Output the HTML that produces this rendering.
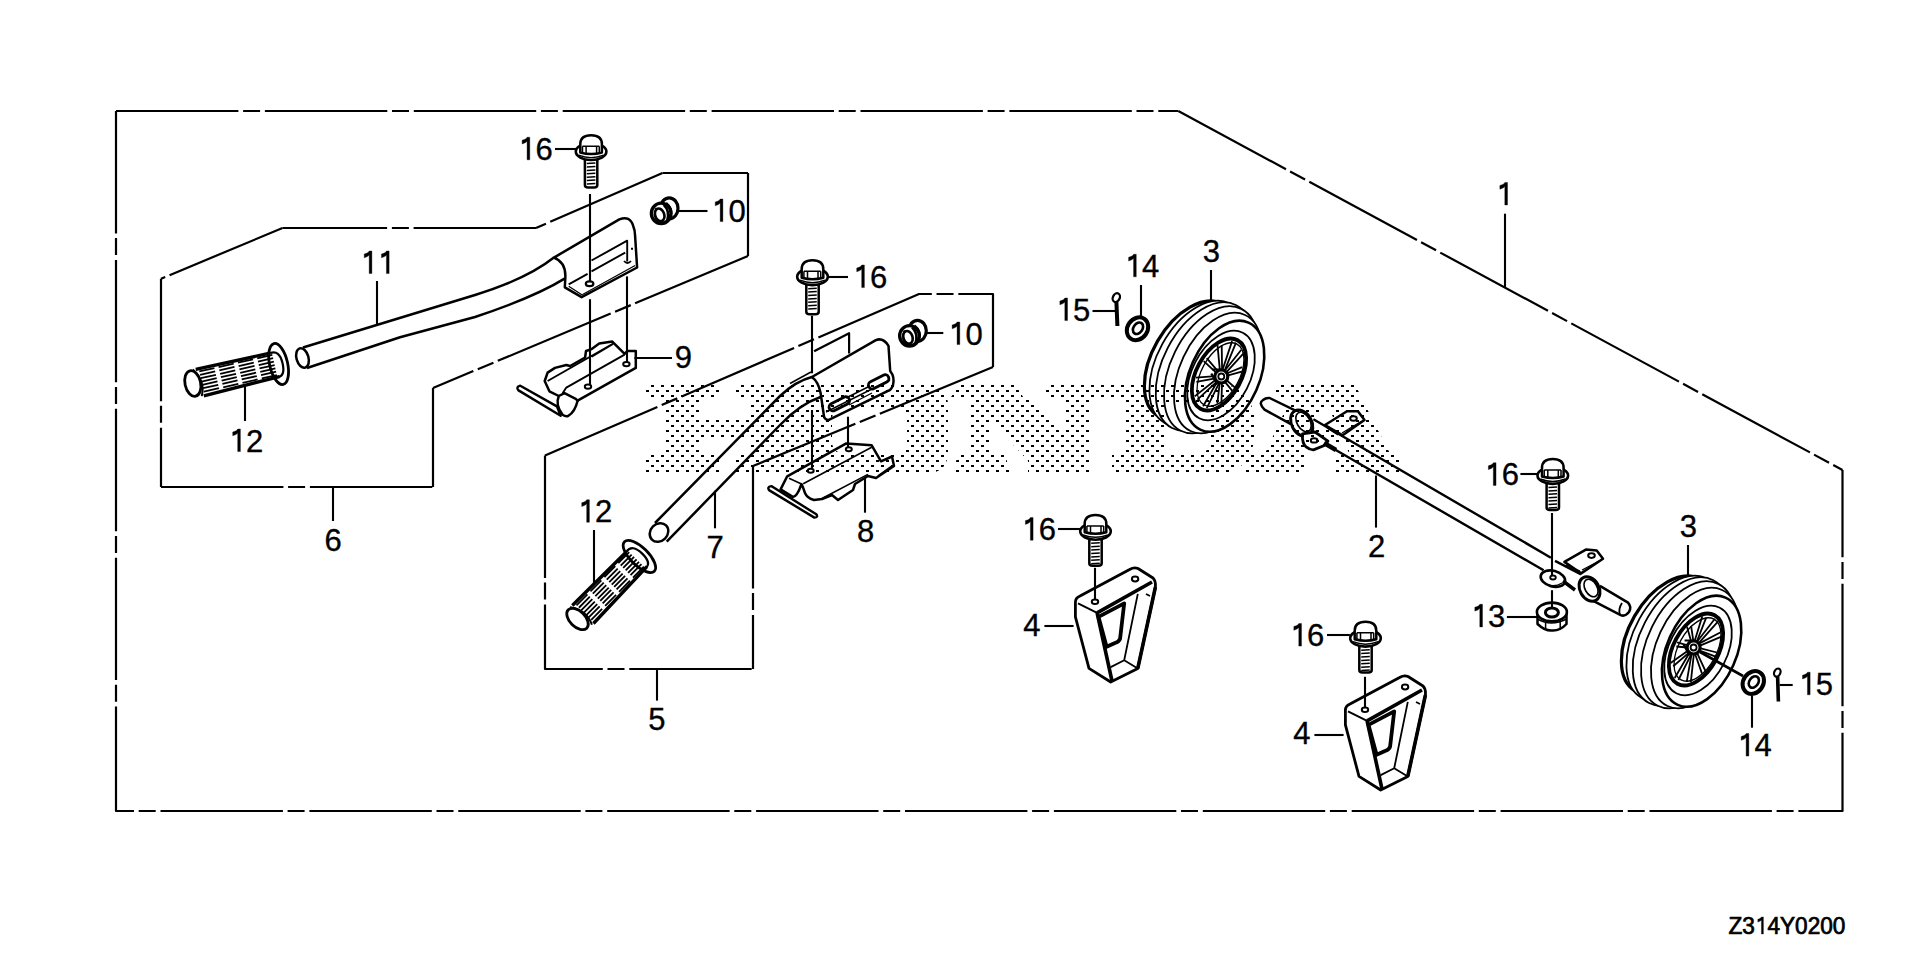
<!DOCTYPE html><html><head><meta charset="utf-8"><style>html,body{margin:0;padding:0;background:#fff;overflow:hidden}svg{display:block}</style></head><body><svg width="1920" height="959" viewBox="0 0 1920 959"><defs><pattern id="dots" patternUnits="userSpaceOnUse" x="1" y="385" width="10" height="10"><rect x="0" y="0" width="3" height="2" fill="#000"/><rect x="5" y="5" width="3" height="2" fill="#000"/></pattern></defs><rect width="1920" height="959" fill="#fff"/><g stroke="#000" fill="none" stroke-linecap="butt" stroke-linejoin="round"><path d="M116,111 V811 H1842.5 V470" stroke-dasharray="122.4 4.7 17 4.8" stroke-width="2.2" fill="none"/><path d="M1178.3,111 L1842.5,470" stroke-dasharray="122.4 4.7 17 4.8" stroke-width="2.2" fill="none"/><path d="M116,111 H1178.3" stroke-dasharray="122.4 4.7 17 4.8" stroke-width="2.2" fill="none"/><path d="M161,278.75 V487" stroke-dasharray="122.4 4.7 17 4.8" stroke-width="2.2" fill="none"/><path d="M161,487 H433" stroke-dasharray="122.4 4.7 17 4.8" stroke-width="2.2" fill="none"/><path d="M433,487 V388" stroke-dasharray="122.4 4.7 17 4.8" stroke-width="2.2" fill="none"/><path d="M748,256 L433,388" stroke-dasharray="122.4 4.7 17 4.8" stroke-width="2.2" fill="none"/><path d="M748,173 V256" stroke-dasharray="122.4 4.7 17 4.8" stroke-width="2.2" fill="none"/><path d="M662.5,173 H748" stroke-dasharray="122.4 4.7 17 4.8" stroke-width="2.2" fill="none"/><path d="M662.5,173 L536,228" stroke-dasharray="122.4 4.7 17 4.8" stroke-width="2.2" fill="none"/><path d="M536,228 H282.5" stroke-dasharray="122.4 4.7 17 4.8" stroke-width="2.2" fill="none"/><path d="M282.5,228 L161,278.75" stroke-dasharray="122.4 4.7 17 4.8" stroke-width="2.2" fill="none"/><path d="M545,455.5 V669 H753" stroke-dasharray="122.4 4.7 17 4.8" stroke-width="2.2" fill="none"/><path d="M753,466 V669" stroke-dasharray="122.4 4.7 17 4.8" stroke-width="2.2" fill="none"/><path d="M993,367 L753,466" stroke-dasharray="122.4 4.7 17 4.8" stroke-width="2.2" fill="none"/><path d="M545,455.5 L919,294 H993 V367" stroke-dasharray="122.4 4.7 17 4.8" stroke-width="2.2" fill="none"/><path d="M303,347.5 L475,295 Q527,279 553.9,257.6" stroke-width="2.5" fill="none"/><path d="M307,368 L400,337.2 L475,317 Q535,297 565,278.4" stroke-width="2.5" fill="none"/><ellipse cx="302.5" cy="358" rx="6" ry="10" transform="rotate(-16 302.5 358)" stroke-width="2.5" fill="#fff"/><path d="M553.9,257.6 L619.3,219.4 Q630,215 633.2,225.9 Q635,230 635.1,235.8 L637.1,267.5 L581.6,297.2 L564.8,287.3 L565.3,278.4 C566,268 563,261 553.9,257.6 Z" stroke-width="2.5" fill="#fff"/><path d="M568.7,286.3 L582.6,295.2 M582.6,294.5 L635.1,265.5" stroke-width="1.3" fill="none"/><path d="M591.5,260.5 L627.2,240.7 V261.5 M591.5,271.4 L625.2,252.6 M568.7,284.3 L587.6,273.9 M631,248.7 H633" stroke-width="1.9" fill="none"/><ellipse cx="589.6" cy="283.8" rx="3.8" ry="2.4" stroke-width="2.2" fill="#fff"/><path d="M624,261 Q627.5,265 631,261" stroke-width="1.8" fill="none"/><path d="M520.3,385.7 L556.9,406.4 L560.7,415.8 L518.5,390.4 Q515.5,387 520.3,385.7 Z" stroke-width="2.4" fill="#fff"/><path d="M577.6,400.7 L635.8,367.9 L635.8,351 L627.4,351 L624.6,353.8 L612.3,341.6 L599.2,343.5 L591.7,349.1 L586,351 L585.1,357.5 L570.1,366 L566.3,365 L555,367.9 L547.6,372.6 L544.7,381 L549.4,391.3 L558.8,396 Z" stroke-width="2.5" fill="#fff"/><path d="M558.8,396 Q555,405 562.6,414.8 Q566,417 568.2,415.8 Q575,412 577.6,400.7 L575.7,398.8 L564.5,393.2 Z" stroke-width="2.5" fill="#fff"/><path d="M547.6,381 L613.3,343.5 M624.6,354.7 L566.3,387.6 L562.6,393.2 M591.7,356.6 L613,344" stroke-width="1.9" fill="none"/><ellipse cx="588" cy="386.6" rx="3.2" ry="2.2" stroke-width="2" fill="#fff"/><ellipse cx="626.4" cy="364.1" rx="3.2" ry="2.2" stroke-width="2" fill="#fff"/><path d="M655,523 L780,396 Q796,381 811.9,377" stroke-width="2.5" fill="none"/><path d="M790,383.5 L811,372" stroke-width="1.5" fill="none"/><path d="M666.7,541.7 L780,425 Q800,404 820.6,397" stroke-width="2.5" fill="none"/><ellipse cx="659" cy="532.5" rx="10" ry="8.5" transform="rotate(-45 659 532.5)" stroke-width="2.5" fill="#fff"/><path d="M811.9,377 L875.4,340.3 Q883,337 888.5,345.8 L890.2,371 Q895,377 893,385.2 Q891,390 888.5,390.7 L828.3,420.2 Q824,419 823.9,415.8 L820.6,393 C819,385 816,380 811.9,377 Z" stroke-width="2.5" fill="#fff"/><path d="M814.1,351.3 L849.1,333.2 V353.5" stroke-width="2.2" fill="none"/><rect x="867.7" y="378" width="22" height="7.7" rx="3.8" transform="rotate(-27 878.7 381.9)" stroke-width="2.8" fill="none"/><rect x="828.3" y="400" width="22" height="7.7" rx="3.8" transform="rotate(-27 839.3 403.8)" stroke-width="2.8" fill="none"/><path d="M846,398 L870,386 M849,405 L872,393 M826,412 L890,380" stroke-width="1.4" fill="none"/><path d="M771.3,486.1 L816.3,514.3 Q818.5,517.5 814.4,517.6 L769.4,490.4 Q766.5,487 771.3,486.1 Z" stroke-width="2.4" fill="#fff"/><path d="M787.2,476.3 L846.3,443.4 L871.7,445.3 L881,461.3 L892,456.5 L894,466 L876,478 L868,476 L855,484 L853,490 L838,500 L832,495 L822,499 L814,500 Q807,498 805,493 Q803,487 801.5,484 Q797,497 792.8,496.9 L780.6,489.4 Z" stroke-width="2.5" fill="#fff"/><path d="M803.2,483.8 L871.7,447.2 M789,478.2 L801.5,484 M822,498.5 L867.9,474.4 M878,476 L892,466" stroke-width="1.6" fill="none"/><ellipse cx="810.7" cy="470.7" rx="3" ry="2" stroke-width="2" fill="#fff"/><ellipse cx="848.8" cy="449.2" rx="3" ry="2" stroke-width="2" fill="#fff"/><path d="M1313.4,419.2 L1550.9,557.7 M1555,560.9 L1581.1,574.4 M1328,445.5 L1543.6,570.2" stroke-width="2.4" fill="none"/><path d="M1269.6,398 L1298.1,411.9 L1290,423.6 L1264.5,409.7 Q1258,403 1263,400 Q1266,397.5 1269.6,398 Z" stroke-width="2.5" fill="#fff"/><ellipse cx="1301.7" cy="423.2" rx="10" ry="14" transform="rotate(-30 1301.7 423.2)" stroke-width="3" fill="#fff"/><ellipse cx="1303.5" cy="422" rx="6.5" ry="10.5" transform="rotate(-30 1303.5 422)" stroke-width="1.6" fill="none"/><path d="M1325,425 L1347,411.2 L1357.9,411.2 L1364.5,419.9 L1342.6,435.3 Z" stroke-width="2.5" fill="#fff"/><path d="M1327,428 L1338,435 M1342,433 L1362,421" stroke-width="1.4" fill="none"/><ellipse cx="1353.5" cy="418.5" rx="3.3" ry="2.2" stroke-width="2" fill="none"/><path d="M1302.4,433.8 Q1302,444 1306.1,446.9 Q1310,450 1313.4,449.9 L1324.3,445.5 L1328,441.1 L1315,432 Z" stroke-width="2.8" fill="#fff"/><ellipse cx="1314.1" cy="440.4" rx="3.3" ry="2.2" stroke-width="2" fill="none"/><path d="M1324,443 L1336,450" stroke-width="4.5" fill="none"/><path d="M1564.4,561.9 L1586.3,549.4 L1596.7,550.4 L1603,558.8 L1581.1,573.4 Z" stroke-width="2.5" fill="#fff"/><path d="M1566,565 L1580,571 M1582,570 L1601,560" stroke-width="1.3" fill="none"/><ellipse cx="1591.5" cy="555.6" rx="3.3" ry="2.3" stroke-width="2" fill="none"/><ellipse cx="1552.9" cy="578.6" rx="12.5" ry="7.8" transform="rotate(15 1552.9 578.6)" stroke-width="2.6" fill="#fff"/><path d="M1548,585 Q1556,587 1562,583" stroke-width="1.3" fill="none"/><ellipse cx="1553" cy="577.5" rx="2.8" ry="2" stroke-width="1.8" fill="none"/><path d="M1563,581 L1575,590" stroke-width="3.5" fill="none"/><path d="M1599.9,585.9 L1628,602.6 Q1632,607 1629,612 Q1625,617 1620.7,615.1 L1588.4,598.4" stroke-width="2.5" fill="#fff"/><path d="M1622,603 Q1618,609 1620,615" stroke-width="1.8" fill="none"/><ellipse cx="1589.5" cy="589" rx="9.5" ry="13" transform="rotate(-30 1589.5 589)" stroke-width="3" fill="#fff"/><ellipse cx="1591" cy="588" rx="6" ry="9.5" transform="rotate(-30 1591 588)" stroke-width="1.6" fill="none"/><path d="M1537.5,612 V624 Q1545,631 1552,630.5 Q1560,631 1566.5,624 V612" stroke-width="2.5" fill="#fff"/><ellipse cx="1551.9" cy="612" rx="15" ry="9.4" stroke-width="2.6" fill="#fff"/><ellipse cx="1551.9" cy="612.5" rx="6.5" ry="4.5" stroke-width="3" fill="none"/><path d="M1545.6,622 V629.5 M1560.2,622 V629.5 M1537.5,619 Q1551,627 1566.5,619" stroke-width="1.5" fill="none"/><ellipse cx="1137.5" cy="328.75" rx="10" ry="12" transform="rotate(35 1137.5 328.75)" stroke-width="4" fill="#fff"/><ellipse cx="1138.0" cy="328.25" rx="4.5" ry="6.2" transform="rotate(35 1138.0 328.25)" stroke-width="2.6" fill="none"/><ellipse cx="1753.3" cy="682.5" rx="10" ry="12" transform="rotate(35 1753.3 682.5)" stroke-width="4" fill="#fff"/><ellipse cx="1753.8" cy="682.0" rx="4.5" ry="6.2" transform="rotate(35 1753.8 682.0)" stroke-width="2.6" fill="none"/><ellipse cx="1116.3" cy="297.6" rx="3.4" ry="4.6" transform="rotate(25 1116.3 297.6)" stroke-width="2.3" fill="none"/><path d="M1116.4,302 L1117.4,326" stroke-width="4" fill="none"/><ellipse cx="1777.3" cy="672.6" rx="3" ry="4.2" transform="rotate(25 1777.3 672.6)" stroke-width="2.2" fill="none"/><path d="M1777.6,676.5 L1778.4,701.5" stroke-width="3.6" fill="none"/><g transform="translate(192.8 383.5) rotate(-12.8)"><path d="M6,-13 L86,-12 L86,13 L8,14.5 Z" stroke="none" fill="#fff"/><path d="M6,-13.2 L82,-12.5 M8,14.5 L86,12.5" stroke-width="3.4" fill="none"/><line x1="9.0" y1="-10.3" x2="24.5" y2="-10.3" stroke-width="1.8"/><line x1="9.0" y1="-6.9" x2="24.5" y2="-6.9" stroke-width="1.8"/><line x1="9.0" y1="-3.4" x2="24.5" y2="-3.4" stroke-width="1.8"/><line x1="9.0" y1="0.1" x2="24.5" y2="0.1" stroke-width="1.8"/><line x1="9.0" y1="3.5" x2="24.5" y2="3.5" stroke-width="1.8"/><line x1="9.0" y1="6.9" x2="24.5" y2="6.9" stroke-width="1.8"/><line x1="9.0" y1="10.4" x2="24.5" y2="10.4" stroke-width="1.8"/><line x1="28.8" y1="-10.3" x2="44.3" y2="-10.3" stroke-width="1.8"/><line x1="28.8" y1="-6.9" x2="44.3" y2="-6.9" stroke-width="1.8"/><line x1="28.8" y1="-3.4" x2="44.3" y2="-3.4" stroke-width="1.8"/><line x1="28.8" y1="0.1" x2="44.3" y2="0.1" stroke-width="1.8"/><line x1="28.8" y1="3.5" x2="44.3" y2="3.5" stroke-width="1.8"/><line x1="28.8" y1="6.9" x2="44.3" y2="6.9" stroke-width="1.8"/><line x1="28.8" y1="10.4" x2="44.3" y2="10.4" stroke-width="1.8"/><line x1="48.6" y1="-10.3" x2="64.1" y2="-10.3" stroke-width="1.8"/><line x1="48.6" y1="-6.9" x2="64.1" y2="-6.9" stroke-width="1.8"/><line x1="48.6" y1="-3.4" x2="64.1" y2="-3.4" stroke-width="1.8"/><line x1="48.6" y1="0.1" x2="64.1" y2="0.1" stroke-width="1.8"/><line x1="48.6" y1="3.5" x2="64.1" y2="3.5" stroke-width="1.8"/><line x1="48.6" y1="6.9" x2="64.1" y2="6.9" stroke-width="1.8"/><line x1="48.6" y1="10.4" x2="64.1" y2="10.4" stroke-width="1.8"/><line x1="68.4" y1="-10.3" x2="83.9" y2="-10.3" stroke-width="1.8"/><line x1="68.4" y1="-6.9" x2="83.9" y2="-6.9" stroke-width="1.8"/><line x1="68.4" y1="-3.4" x2="83.9" y2="-3.4" stroke-width="1.8"/><line x1="68.4" y1="0.1" x2="83.9" y2="0.1" stroke-width="1.8"/><line x1="68.4" y1="3.5" x2="83.9" y2="3.5" stroke-width="1.8"/><line x1="68.4" y1="6.9" x2="83.9" y2="6.9" stroke-width="1.8"/><line x1="68.4" y1="10.4" x2="83.9" y2="10.4" stroke-width="1.8"/><ellipse cx="0" cy="0" rx="7.8" ry="13" stroke-width="2.8" fill="#fff"/><path d="M3,-13.6 Q13,0 6,14.3" stroke-width="2" fill="none"/><ellipse cx="88" cy="0" rx="9" ry="21" stroke-width="2.8" fill="none"/><path d="M82,-12.5 Q92,-14 92,0 Q92,13 85,12.5" stroke-width="2.2" fill="none"/></g><g transform="translate(577.5 619) rotate(-45.3)"><path d="M6,-13 L86,-12 L86,13 L8,14.5 Z" stroke="none" fill="#fff"/><path d="M6,-13.2 L82,-12.5 M8,14.5 L86,12.5" stroke-width="3.4" fill="none"/><line x1="9.0" y1="-10.3" x2="24.5" y2="-10.3" stroke-width="1.8"/><line x1="9.0" y1="-6.9" x2="24.5" y2="-6.9" stroke-width="1.8"/><line x1="9.0" y1="-3.4" x2="24.5" y2="-3.4" stroke-width="1.8"/><line x1="9.0" y1="0.1" x2="24.5" y2="0.1" stroke-width="1.8"/><line x1="9.0" y1="3.5" x2="24.5" y2="3.5" stroke-width="1.8"/><line x1="9.0" y1="6.9" x2="24.5" y2="6.9" stroke-width="1.8"/><line x1="9.0" y1="10.4" x2="24.5" y2="10.4" stroke-width="1.8"/><line x1="28.8" y1="-10.3" x2="44.3" y2="-10.3" stroke-width="1.8"/><line x1="28.8" y1="-6.9" x2="44.3" y2="-6.9" stroke-width="1.8"/><line x1="28.8" y1="-3.4" x2="44.3" y2="-3.4" stroke-width="1.8"/><line x1="28.8" y1="0.1" x2="44.3" y2="0.1" stroke-width="1.8"/><line x1="28.8" y1="3.5" x2="44.3" y2="3.5" stroke-width="1.8"/><line x1="28.8" y1="6.9" x2="44.3" y2="6.9" stroke-width="1.8"/><line x1="28.8" y1="10.4" x2="44.3" y2="10.4" stroke-width="1.8"/><line x1="48.6" y1="-10.3" x2="64.1" y2="-10.3" stroke-width="1.8"/><line x1="48.6" y1="-6.9" x2="64.1" y2="-6.9" stroke-width="1.8"/><line x1="48.6" y1="-3.4" x2="64.1" y2="-3.4" stroke-width="1.8"/><line x1="48.6" y1="0.1" x2="64.1" y2="0.1" stroke-width="1.8"/><line x1="48.6" y1="3.5" x2="64.1" y2="3.5" stroke-width="1.8"/><line x1="48.6" y1="6.9" x2="64.1" y2="6.9" stroke-width="1.8"/><line x1="48.6" y1="10.4" x2="64.1" y2="10.4" stroke-width="1.8"/><line x1="68.4" y1="-10.3" x2="83.9" y2="-10.3" stroke-width="1.8"/><line x1="68.4" y1="-6.9" x2="83.9" y2="-6.9" stroke-width="1.8"/><line x1="68.4" y1="-3.4" x2="83.9" y2="-3.4" stroke-width="1.8"/><line x1="68.4" y1="0.1" x2="83.9" y2="0.1" stroke-width="1.8"/><line x1="68.4" y1="3.5" x2="83.9" y2="3.5" stroke-width="1.8"/><line x1="68.4" y1="6.9" x2="83.9" y2="6.9" stroke-width="1.8"/><line x1="68.4" y1="10.4" x2="83.9" y2="10.4" stroke-width="1.8"/><ellipse cx="0" cy="0" rx="7.8" ry="13" stroke-width="2.8" fill="#fff"/><path d="M3,-13.6 Q13,0 6,14.3" stroke-width="2" fill="none"/><ellipse cx="88" cy="0" rx="9" ry="21" stroke-width="2.8" fill="none"/><path d="M82,-12.5 Q92,-14 92,0 Q92,13 85,12.5" stroke-width="2.2" fill="none"/></g><g><path d="M584.9,157.6 V185.1 Q584.9,187.6 588.1,187.6 H594.1 Q597.3000000000001,187.6 597.3000000000001,185.1 V157.6" stroke-width="2.5" fill="#fff"/><line x1="586.8000000000001" y1="163.6" x2="595.4" y2="163.1" stroke-width="1.5"/><line x1="586.8000000000001" y1="167.0" x2="595.4" y2="166.5" stroke-width="1.5"/><line x1="586.8000000000001" y1="170.4" x2="595.4" y2="169.9" stroke-width="1.5"/><line x1="586.8000000000001" y1="173.8" x2="595.4" y2="173.3" stroke-width="1.5"/><line x1="586.8000000000001" y1="177.2" x2="595.4" y2="176.7" stroke-width="1.5"/><line x1="586.8000000000001" y1="180.6" x2="595.4" y2="180.1" stroke-width="1.5"/><line x1="586.8000000000001" y1="184.0" x2="595.4" y2="183.5" stroke-width="1.5"/><ellipse cx="591.1" cy="151.6" rx="15.3" ry="8.4" stroke-width="2.6" fill="#fff"/><path d="M578.6,155.1 Q591.1,160.1 603.6,155.1" stroke-width="1.4" fill="none"/><path d="M580.3000000000001,152.6 V144.1 C580.3000000000001,138.1 584.6,135.2 591.1,135.2 C597.6,135.2 601.9,138.1 601.9,144.1 V152.6 Q591.1,155.6 580.3000000000001,152.6 Z" stroke-width="2.5" fill="#fff"/><path d="M582.5,146.2 H599.3000000000001 M582.5,146.2 V153.1 M599.3000000000001,146.2 V153.1 M586.1,146.2 V153.6 M596.6,146.2 V153.6" stroke-width="1.5" fill="none"/></g><g><path d="M806.3,282.7 V311.7 Q806.3,314.2 809.5,314.2 H815.5 Q818.7,314.2 818.7,311.7 V282.7" stroke-width="2.5" fill="#fff"/><line x1="808.2" y1="288.7" x2="816.8" y2="288.2" stroke-width="1.5"/><line x1="808.2" y1="292.1" x2="816.8" y2="291.6" stroke-width="1.5"/><line x1="808.2" y1="295.5" x2="816.8" y2="295.0" stroke-width="1.5"/><line x1="808.2" y1="298.9" x2="816.8" y2="298.4" stroke-width="1.5"/><line x1="808.2" y1="302.3" x2="816.8" y2="301.8" stroke-width="1.5"/><line x1="808.2" y1="305.7" x2="816.8" y2="305.2" stroke-width="1.5"/><line x1="808.2" y1="309.1" x2="816.8" y2="308.6" stroke-width="1.5"/><ellipse cx="812.5" cy="276.7" rx="15.3" ry="8.4" stroke-width="2.6" fill="#fff"/><path d="M800.0,280.2 Q812.5,285.2 825.0,280.2" stroke-width="1.4" fill="none"/><path d="M801.7,277.7 V269.2 C801.7,263.2 806.0,260.3 812.5,260.3 C819.0,260.3 823.3,263.2 823.3,269.2 V277.7 Q812.5,280.7 801.7,277.7 Z" stroke-width="2.5" fill="#fff"/><path d="M803.9,271.3 H820.7 M803.9,271.3 V278.2 M820.7,271.3 V278.2 M807.5,271.3 V278.7 M818.0,271.3 V278.7" stroke-width="1.5" fill="none"/></g><g><path d="M1089.3,537.3 V563.1999999999999 Q1089.3,565.6999999999999 1092.5,565.6999999999999 H1098.5 Q1101.7,565.6999999999999 1101.7,563.1999999999999 V537.3" stroke-width="2.5" fill="#fff"/><line x1="1091.2" y1="543.3" x2="1099.8" y2="542.8" stroke-width="1.5"/><line x1="1091.2" y1="546.7" x2="1099.8" y2="546.2" stroke-width="1.5"/><line x1="1091.2" y1="550.1" x2="1099.8" y2="549.6" stroke-width="1.5"/><line x1="1091.2" y1="553.5" x2="1099.8" y2="553.0" stroke-width="1.5"/><line x1="1091.2" y1="556.9" x2="1099.8" y2="556.4" stroke-width="1.5"/><line x1="1091.2" y1="560.3" x2="1099.8" y2="559.8" stroke-width="1.5"/><line x1="1091.2" y1="563.7" x2="1099.8" y2="563.2" stroke-width="1.5"/><ellipse cx="1095.5" cy="531.3" rx="15.3" ry="8.4" stroke-width="2.6" fill="#fff"/><path d="M1083.0,534.8 Q1095.5,539.8 1108.0,534.8" stroke-width="1.4" fill="none"/><path d="M1084.7,532.3 V523.8 C1084.7,517.8 1089.0,514.9 1095.5,514.9 C1102.0,514.9 1106.3,517.8 1106.3,523.8 V532.3 Q1095.5,535.3 1084.7,532.3 Z" stroke-width="2.5" fill="#fff"/><path d="M1086.9,525.9 H1103.7 M1086.9,525.9 V532.8 M1103.7,525.9 V532.8 M1090.5,525.9 V533.3 M1101.0,525.9 V533.3" stroke-width="1.5" fill="none"/></g><g><path d="M1359.3,644.2 V670.1 Q1359.3,672.6 1362.5,672.6 H1368.5 Q1371.7,672.6 1371.7,670.1 V644.2" stroke-width="2.5" fill="#fff"/><line x1="1361.2" y1="650.2" x2="1369.8" y2="649.7" stroke-width="1.5"/><line x1="1361.2" y1="653.6" x2="1369.8" y2="653.1" stroke-width="1.5"/><line x1="1361.2" y1="657.0" x2="1369.8" y2="656.5" stroke-width="1.5"/><line x1="1361.2" y1="660.4" x2="1369.8" y2="659.9" stroke-width="1.5"/><line x1="1361.2" y1="663.8" x2="1369.8" y2="663.3" stroke-width="1.5"/><line x1="1361.2" y1="667.2" x2="1369.8" y2="666.7" stroke-width="1.5"/><line x1="1361.2" y1="670.6" x2="1369.8" y2="670.1" stroke-width="1.5"/><ellipse cx="1365.5" cy="638.2" rx="15.3" ry="8.4" stroke-width="2.6" fill="#fff"/><path d="M1353.0,641.7 Q1365.5,646.7 1378.0,641.7" stroke-width="1.4" fill="none"/><path d="M1354.7,639.2 V630.7 C1354.7,624.7 1359.0,621.8000000000001 1365.5,621.8000000000001 C1372.0,621.8000000000001 1376.3,624.7 1376.3,630.7 V639.2 Q1365.5,642.2 1354.7,639.2 Z" stroke-width="2.5" fill="#fff"/><path d="M1356.9,632.8000000000001 H1373.7 M1356.9,632.8000000000001 V639.7 M1373.7,632.8000000000001 V639.7 M1360.5,632.8000000000001 V640.2 M1371.0,632.8000000000001 V640.2" stroke-width="1.5" fill="none"/></g><g><path d="M1546.6,481.5 V507.4 Q1546.6,509.9 1549.8,509.9 H1555.8 Q1559.0,509.9 1559.0,507.4 V481.5" stroke-width="2.5" fill="#fff"/><line x1="1548.5" y1="487.5" x2="1557.1" y2="487.0" stroke-width="1.5"/><line x1="1548.5" y1="490.9" x2="1557.1" y2="490.4" stroke-width="1.5"/><line x1="1548.5" y1="494.3" x2="1557.1" y2="493.8" stroke-width="1.5"/><line x1="1548.5" y1="497.7" x2="1557.1" y2="497.2" stroke-width="1.5"/><line x1="1548.5" y1="501.1" x2="1557.1" y2="500.6" stroke-width="1.5"/><line x1="1548.5" y1="504.5" x2="1557.1" y2="504.0" stroke-width="1.5"/><line x1="1548.5" y1="507.9" x2="1557.1" y2="507.4" stroke-width="1.5"/><ellipse cx="1552.8" cy="475.5" rx="15.3" ry="8.4" stroke-width="2.6" fill="#fff"/><path d="M1540.3,479.0 Q1552.8,484.0 1565.3,479.0" stroke-width="1.4" fill="none"/><path d="M1542.0,476.5 V468.0 C1542.0,462.0 1546.3,459.1 1552.8,459.1 C1559.3,459.1 1563.6,462.0 1563.6,468.0 V476.5 Q1552.8,479.5 1542.0,476.5 Z" stroke-width="2.5" fill="#fff"/><path d="M1544.2,470.1 H1561.0 M1544.2,470.1 V477.0 M1561.0,470.1 V477.0 M1547.8,470.1 V477.5 M1558.3,470.1 V477.5" stroke-width="1.5" fill="none"/></g><g><ellipse cx="669.2" cy="208.3" rx="8.8" ry="10.5" stroke-width="3.2" fill="#fff"/><path d="M666.2,202.8 Q674.2,208.8 670.2,217.8" stroke-width="1.8" fill="none"/><ellipse cx="661.2" cy="213.3" rx="9.8" ry="10.2" stroke-width="3.4" fill="#fff"/><ellipse cx="659.7" cy="214.8" rx="4.5" ry="6.5" transform="rotate(-20 659.7 214.8)" stroke-width="2.6" fill="none"/><path d="M663.7,204.8 Q670.2,210.8 667.2,220.8" stroke-width="2.6" fill="none"/><path d="M656.2,207.8 Q652.2,216.8 658.2,221.8" stroke-width="1.6" fill="none"/></g><g><ellipse cx="917.5" cy="330.8" rx="8.8" ry="10.5" stroke-width="3.2" fill="#fff"/><path d="M914.5,325.3 Q922.5,331.3 918.5,340.3" stroke-width="1.8" fill="none"/><ellipse cx="909.5" cy="335.8" rx="9.8" ry="10.2" stroke-width="3.4" fill="#fff"/><ellipse cx="908.0" cy="337.3" rx="4.5" ry="6.5" transform="rotate(-20 908.0 337.3)" stroke-width="2.6" fill="none"/><path d="M912.0,327.3 Q918.5,333.3 915.5,343.3" stroke-width="2.6" fill="none"/><path d="M904.5,330.3 Q900.5,339.3 906.5,344.3" stroke-width="1.6" fill="none"/></g><g transform="translate(0 0)"><ellipse cx="1190.6" cy="360.2" rx="38.2" ry="64.6" transform="rotate(30.0 1190.6 360.2)" stroke-width="3.2" fill="#fff"/><ellipse cx="1197.4" cy="363.4" rx="40.1" ry="67.9" transform="rotate(28.8 1197.4 363.4)" stroke-width="1.8" fill="#fff"/><ellipse cx="1204.2" cy="366.6" rx="41.0" ry="69.3" transform="rotate(27.6 1204.2 366.6)" stroke-width="1.8" fill="#fff"/><ellipse cx="1211.0" cy="369.8" rx="40.2" ry="68.0" transform="rotate(26.4 1211.0 369.8)" stroke-width="1.8" fill="#fff"/><ellipse cx="1217.8" cy="373.0" rx="37.9" ry="64.1" transform="rotate(25.2 1217.8 373.0)" stroke-width="1.8" fill="#fff"/><ellipse cx="1224.6" cy="376.2" rx="34.7" ry="58.7" transform="rotate(24.0 1224.6 376.2)" stroke-width="2.6" fill="#fff"/><ellipse cx="1221" cy="375.5" rx="29" ry="48" transform="rotate(27 1221 375.5)" stroke-width="1.8" fill="none"/><ellipse cx="1219" cy="374.5" rx="22.5" ry="39" transform="rotate(28.5 1219 374.5)" stroke-width="3.8" fill="none"/><ellipse cx="1220.5" cy="374.5" rx="19" ry="34.5" transform="rotate(28.5 1220.5 374.5)" stroke-width="1.3" fill="none"/><path d="M1224.7,381.6 L1232.3,390.9 M1226.3,380.0 L1235.3,387.9" stroke-width="1.8" fill="none"/><path d="M1219.8,382.4 L1217.3,403.7 M1222.0,382.6 L1221.4,404.0" stroke-width="1.8" fill="none"/><path d="M1217.5,381.3 L1203.1,406.2 M1219.4,382.3 L1206.8,408.1" stroke-width="1.8" fill="none"/><path d="M1216.0,379.5 L1194.7,396.4 M1217.4,381.2 L1197.4,399.6" stroke-width="1.8" fill="none"/><path d="M1215.2,376.2 L1195.9,377.7 M1215.5,378.4 L1196.4,381.9" stroke-width="1.8" fill="none"/><path d="M1218.0,371.4 L1206.7,358.2 M1216.4,372.9 L1203.7,361.1" stroke-width="1.8" fill="none"/><path d="M1222.1,370.5 L1221.7,345.0 M1219.9,370.6 L1217.5,345.2" stroke-width="1.8" fill="none"/><path d="M1224.4,371.2 L1236.0,342.6 M1222.3,370.5 L1232.1,341.1" stroke-width="1.8" fill="none"/><path d="M1226.0,372.6 L1244.5,352.4 M1224.3,371.2 L1241.3,349.7" stroke-width="1.8" fill="none"/><path d="M1227.3,375.6 L1243.5,371.2 M1226.6,373.5 L1242.2,367.2" stroke-width="1.8" fill="none"/><path d="M1211.3,373.5 L1217.3,384.5 M1212.3,369.5 L1221.3,369.5" stroke-width="2.2" fill="none"/><circle cx="1221.3" cy="376.5" r="6.5" stroke-width="3.2" fill="#fff"/><circle cx="1221.3" cy="376.5" r="3" stroke-width="1.8" fill="none"/><line x1="1211" y1="270" x2="1211" y2="302" stroke-width="2.1"/></g><g transform="translate(477 275)"><ellipse cx="1190.6" cy="360.2" rx="38.2" ry="64.6" transform="rotate(30.0 1190.6 360.2)" stroke-width="3.2" fill="#fff"/><ellipse cx="1197.4" cy="363.4" rx="40.1" ry="67.9" transform="rotate(28.8 1197.4 363.4)" stroke-width="1.8" fill="#fff"/><ellipse cx="1204.2" cy="366.6" rx="41.0" ry="69.3" transform="rotate(27.6 1204.2 366.6)" stroke-width="1.8" fill="#fff"/><ellipse cx="1211.0" cy="369.8" rx="40.2" ry="68.0" transform="rotate(26.4 1211.0 369.8)" stroke-width="1.8" fill="#fff"/><ellipse cx="1217.8" cy="373.0" rx="37.9" ry="64.1" transform="rotate(25.2 1217.8 373.0)" stroke-width="1.8" fill="#fff"/><ellipse cx="1224.6" cy="376.2" rx="34.7" ry="58.7" transform="rotate(24.0 1224.6 376.2)" stroke-width="2.6" fill="#fff"/><ellipse cx="1221" cy="375.5" rx="29" ry="48" transform="rotate(27 1221 375.5)" stroke-width="1.8" fill="none"/><ellipse cx="1219" cy="374.5" rx="22.5" ry="39" transform="rotate(28.5 1219 374.5)" stroke-width="3.8" fill="none"/><ellipse cx="1220.5" cy="374.5" rx="19" ry="34.5" transform="rotate(28.5 1220.5 374.5)" stroke-width="1.3" fill="none"/><path d="M1217.9,378.5 L1225.0,398.6 M1219.9,377.6 L1228.9,397.0" stroke-width="1.8" fill="none"/><path d="M1214.7,378.3 L1209.7,406.8 M1216.9,378.6 L1213.8,407.4" stroke-width="1.8" fill="none"/><path d="M1212.8,377.3 L1197.7,403.0 M1214.7,378.3 L1201.4,405.0" stroke-width="1.8" fill="none"/><path d="M1211.2,375.4 L1193.6,388.0 M1212.6,377.1 L1196.2,391.3" stroke-width="1.8" fill="none"/><path d="M1210.9,370.4 L1200.1,367.4 M1210.5,372.5 L1199.3,371.5" stroke-width="1.8" fill="none"/><path d="M1216.4,366.4 L1214.1,350.8 M1214.3,366.9 L1210.0,351.7" stroke-width="1.8" fill="none"/><path d="M1219.6,367.2 L1229.2,342.6 M1217.5,366.5 L1225.3,341.2" stroke-width="1.8" fill="none"/><path d="M1221.3,368.6 L1241.1,346.3 M1219.6,367.2 L1237.9,343.7" stroke-width="1.8" fill="none"/><path d="M1222.5,370.9 L1245.0,361.3 M1221.5,368.9 L1243.2,357.5" stroke-width="1.8" fill="none"/><path d="M1222.0,375.3 L1238.7,381.6 M1222.7,373.2 L1239.9,377.5" stroke-width="1.8" fill="none"/><path d="M1206.6,369.5 L1212.6,380.5 M1207.6,365.5 L1216.6,365.5" stroke-width="2.2" fill="none"/><circle cx="1216.6" cy="372.5" r="6.5" stroke-width="3.2" fill="#fff"/><circle cx="1216.6" cy="372.5" r="3" stroke-width="1.8" fill="none"/><line x1="1211" y1="270" x2="1211" y2="302" stroke-width="2.1"/></g><line x1="1700" y1="652" x2="1743" y2="676" stroke-width="2.6"/><g transform="translate(0 0)"><path d="M1075.4,603 Q1075,598 1080,596 L1129.6,569.5 Q1134,567 1138,568.5 L1153,578 Q1156,581 1155.4,587.1 L1137.8,668.4 L1110.7,682 L1089,668.4 L1075.4,616.9 Z" stroke-width="2.8" fill="#fff"/><path d="M1078,603.4 L1097.1,612.9" stroke-width="2" fill="none"/><path d="M1097.1,612.9 L1152,582 M1097.1,612.9 L1112,681 M1155.4,587.1 L1137.8,668.4" stroke-width="3.6" fill="none"/><path d="M1098.5,616.9 L1124.2,603.4 L1120.1,638.6 Q1119,642 1115,643 L1106.6,646.7 Z" stroke-width="3.8" fill="none"/><path d="M1137.8,593.9 L1124.2,660.3 M1110.7,667.1 L1124.2,660.3 L1137.8,668.4 M1146,594 L1150,596" stroke-width="1.8" fill="none"/><ellipse cx="1135.1" cy="579" rx="3.2" ry="2.4" stroke-width="2" fill="none"/><ellipse cx="1095" cy="601.8" rx="3.2" ry="2.2" stroke-width="2" fill="none"/></g><g transform="translate(270 108)"><path d="M1075.4,603 Q1075,598 1080,596 L1129.6,569.5 Q1134,567 1138,568.5 L1153,578 Q1156,581 1155.4,587.1 L1137.8,668.4 L1110.7,682 L1089,668.4 L1075.4,616.9 Z" stroke-width="2.8" fill="#fff"/><path d="M1078,603.4 L1097.1,612.9" stroke-width="2" fill="none"/><path d="M1097.1,612.9 L1152,582 M1097.1,612.9 L1112,681 M1155.4,587.1 L1137.8,668.4" stroke-width="3.6" fill="none"/><path d="M1098.5,616.9 L1124.2,603.4 L1120.1,638.6 Q1119,642 1115,643 L1106.6,646.7 Z" stroke-width="3.8" fill="none"/><path d="M1137.8,593.9 L1124.2,660.3 M1110.7,667.1 L1124.2,660.3 L1137.8,668.4 M1146,594 L1150,596" stroke-width="1.8" fill="none"/><ellipse cx="1135.1" cy="579" rx="3.2" ry="2.4" stroke-width="2" fill="none"/><ellipse cx="1095" cy="601.8" rx="3.2" ry="2.2" stroke-width="2" fill="none"/></g><line x1="555" y1="149" x2="576.7" y2="149" stroke-width="2.1"/><line x1="676.7" y1="211" x2="707.5" y2="211" stroke-width="2.1"/><line x1="377" y1="281" x2="377" y2="325" stroke-width="2.1"/><line x1="634.4" y1="358" x2="672" y2="358" stroke-width="2.1"/><line x1="245" y1="386.7" x2="245" y2="421" stroke-width="2.1"/><line x1="333" y1="487" x2="333" y2="521" stroke-width="2.1"/><line x1="828" y1="277" x2="848" y2="277" stroke-width="2.1"/><line x1="925" y1="333" x2="943.3" y2="333" stroke-width="2.1"/><line x1="594" y1="530" x2="594" y2="583.3" stroke-width="2.1"/><line x1="715" y1="490.8" x2="715" y2="528.3" stroke-width="2.1"/><line x1="865" y1="477.7" x2="865" y2="512.7" stroke-width="2.1"/><line x1="657" y1="669" x2="657" y2="700.6" stroke-width="2.1"/><line x1="1141" y1="285" x2="1141" y2="316.25" stroke-width="2.1"/><line x1="1092.5" y1="311" x2="1115" y2="311" stroke-width="2.1"/><line x1="1505" y1="213.7" x2="1505" y2="287.6" stroke-width="2.1"/><line x1="1376" y1="475.5" x2="1376" y2="527.6" stroke-width="2.1"/><line x1="1520.4" y1="474" x2="1537" y2="474" stroke-width="2.1"/><line x1="1506.9" y1="617" x2="1537" y2="617" stroke-width="2.1"/><line x1="1058" y1="529" x2="1080.9" y2="529" stroke-width="2.1"/><line x1="1044.4" y1="626" x2="1073.6" y2="626" stroke-width="2.1"/><line x1="1327" y1="635" x2="1349.9" y2="635" stroke-width="2.1"/><line x1="1314.4" y1="735" x2="1343.6" y2="735" stroke-width="2.1"/><line x1="1752" y1="695.6" x2="1752" y2="727.7" stroke-width="2.1"/><line x1="1779.6" y1="685" x2="1792.7" y2="685" stroke-width="2.1"/><line x1="590" y1="194" x2="590" y2="281" stroke-width="2.1"/><line x1="590" y1="299.2" x2="590" y2="384.5" stroke-width="2.1"/><line x1="627" y1="276.4" x2="627" y2="362" stroke-width="2.1"/><line x1="812" y1="315.8" x2="812" y2="373.3" stroke-width="2.1"/><line x1="812" y1="410" x2="812" y2="468.5" stroke-width="2.1"/><line x1="848" y1="416.7" x2="848" y2="447" stroke-width="2.1"/><line x1="1095" y1="567.8" x2="1095" y2="600" stroke-width="2.1"/><line x1="1365" y1="676.8" x2="1365" y2="708" stroke-width="2.1"/><line x1="1552" y1="513" x2="1552" y2="576" stroke-width="2.1"/><line x1="1552" y1="590.2" x2="1552" y2="608" stroke-width="2.1"/></g><g fill="url(#dots)" stroke="none"><path d="M645,384H720V398.5H645ZM665,398.5H700V453.5H665ZM645,453.5H720V473.5H645ZM700,418.5H750V438.5H700ZM735,384H800V398.5H735ZM750,398.5H790V453.5H750ZM735,453.5H800V473.5H735ZM960,384H1015L1024,398.5H950ZM970,398.5H990V453.5H970ZM958,453.5H1005L1010,473.5H953ZM988,398.5L1030,398.5L1089,458L1089,473.5L1040,473.5L990,420ZM1064,398.5H1090V473.5H1064ZM1045,384H1106V398.5H1045ZM1028,453.5H1090V473.5H1028Z"/><path d="M812,384H926Q948,384 948,406V451Q948,473.5 926,473.5H812Q790,473.5 790,451V406Q790,384 812,384Z M844,408Q832,408 832,420V441Q832,453 844,453H895Q907,453 907,441V420Q907,408 895,408Z" fill-rule="evenodd"/><path d="M1100,384H1215Q1255,384 1255,428Q1255,473.5 1215,473.5H1112V453.5H1125V398.5H1100Z M1165,404V453.5H1200Q1211,453.5 1211,430Q1211,404 1200,404Z" fill-rule="evenodd"/><path d="M1275,384H1355L1364,403L1390,453.5H1399V473.5H1335V453.5H1349L1345,443H1305L1303,453.5H1304V473.5H1245V453.5H1265L1290,400H1275Z M1310,430H1340L1326,404Z" fill-rule="evenodd"/></g><g fill="#000" stroke="#000" stroke-width="0.35" font-family="Liberation Sans, sans-serif"><path transform="translate(518.16 159.80) scale(31)" stroke-width="0.0113" d="M0.375,0 V-0.729 H0.290 Q0.26,-0.67 0.20,-0.655 L0.128,-0.632 V-0.51 L0.21,-0.54 Q0.26,-0.565 0.288,-0.6 V0 Z"/><text x="535.40" y="159.80" font-size="31">6</text><path transform="translate(711.26 221.60) scale(31)" stroke-width="0.0113" d="M0.375,0 V-0.729 H0.290 Q0.26,-0.67 0.20,-0.655 L0.128,-0.632 V-0.51 L0.21,-0.54 Q0.26,-0.565 0.288,-0.6 V0 Z"/><text x="728.50" y="221.60" font-size="31">0</text><path transform="translate(360.26 273.60) scale(31)" stroke-width="0.0113" d="M0.375,0 V-0.729 H0.290 Q0.26,-0.67 0.20,-0.655 L0.128,-0.632 V-0.51 L0.21,-0.54 Q0.26,-0.565 0.288,-0.6 V0 Z"/><path transform="translate(377.50 273.60) scale(31)" stroke-width="0.0113" d="M0.375,0 V-0.729 H0.290 Q0.26,-0.67 0.20,-0.655 L0.128,-0.632 V-0.51 L0.21,-0.54 Q0.26,-0.565 0.288,-0.6 V0 Z"/><text x="674.68" y="368.10" font-size="31">9</text><path transform="translate(228.76 451.60) scale(31)" stroke-width="0.0113" d="M0.375,0 V-0.729 H0.290 Q0.26,-0.67 0.20,-0.655 L0.128,-0.632 V-0.51 L0.21,-0.54 Q0.26,-0.565 0.288,-0.6 V0 Z"/><text x="246.00" y="451.60" font-size="31">2</text><text x="324.38" y="550.60" font-size="31">6</text><path transform="translate(852.76 287.60) scale(31)" stroke-width="0.0113" d="M0.375,0 V-0.729 H0.290 Q0.26,-0.67 0.20,-0.655 L0.128,-0.632 V-0.51 L0.21,-0.54 Q0.26,-0.565 0.288,-0.6 V0 Z"/><text x="870.00" y="287.60" font-size="31">6</text><path transform="translate(948.16 344.60) scale(31)" stroke-width="0.0113" d="M0.375,0 V-0.729 H0.290 Q0.26,-0.67 0.20,-0.655 L0.128,-0.632 V-0.51 L0.21,-0.54 Q0.26,-0.565 0.288,-0.6 V0 Z"/><text x="965.40" y="344.60" font-size="31">0</text><path transform="translate(577.76 522.30) scale(31)" stroke-width="0.0113" d="M0.375,0 V-0.729 H0.290 Q0.26,-0.67 0.20,-0.655 L0.128,-0.632 V-0.51 L0.21,-0.54 Q0.26,-0.565 0.288,-0.6 V0 Z"/><text x="595.00" y="522.30" font-size="31">2</text><text x="706.38" y="558.10" font-size="31">7</text><text x="856.88" y="541.80" font-size="31">8</text><text x="648.26" y="730.35" font-size="31">5</text><text x="1202.63" y="261.85" font-size="31">3</text><path transform="translate(1124.64 276.85) scale(31)" stroke-width="0.0113" d="M0.375,0 V-0.729 H0.290 Q0.26,-0.67 0.20,-0.655 L0.128,-0.632 V-0.51 L0.21,-0.54 Q0.26,-0.565 0.288,-0.6 V0 Z"/><text x="1141.88" y="276.85" font-size="31">4</text><path transform="translate(1055.89 320.60) scale(31)" stroke-width="0.0113" d="M0.375,0 V-0.729 H0.290 Q0.26,-0.67 0.20,-0.655 L0.128,-0.632 V-0.51 L0.21,-0.54 Q0.26,-0.565 0.288,-0.6 V0 Z"/><text x="1073.12" y="320.60" font-size="31">5</text><path transform="translate(1495.88 205.00) scale(31)" stroke-width="0.0113" d="M0.375,0 V-0.729 H0.290 Q0.26,-0.67 0.20,-0.655 L0.128,-0.632 V-0.51 L0.21,-0.54 Q0.26,-0.565 0.288,-0.6 V0 Z"/><text x="1367.88" y="557.40" font-size="31">2</text><path transform="translate(1484.41 485.40) scale(31)" stroke-width="0.0113" d="M0.375,0 V-0.729 H0.290 Q0.26,-0.67 0.20,-0.655 L0.128,-0.632 V-0.51 L0.21,-0.54 Q0.26,-0.565 0.288,-0.6 V0 Z"/><text x="1501.65" y="485.40" font-size="31">6</text><path transform="translate(1470.86 626.90) scale(31)" stroke-width="0.0113" d="M0.375,0 V-0.729 H0.290 Q0.26,-0.67 0.20,-0.655 L0.128,-0.632 V-0.51 L0.21,-0.54 Q0.26,-0.565 0.288,-0.6 V0 Z"/><text x="1488.10" y="626.90" font-size="31">3</text><path transform="translate(1021.46 540.20) scale(31)" stroke-width="0.0113" d="M0.375,0 V-0.729 H0.290 Q0.26,-0.67 0.20,-0.655 L0.128,-0.632 V-0.51 L0.21,-0.54 Q0.26,-0.565 0.288,-0.6 V0 Z"/><text x="1038.70" y="540.20" font-size="31">6</text><text x="1023.28" y="636.20" font-size="31">4</text><path transform="translate(1289.86 646.10) scale(31)" stroke-width="0.0113" d="M0.375,0 V-0.729 H0.290 Q0.26,-0.67 0.20,-0.655 L0.128,-0.632 V-0.51 L0.21,-0.54 Q0.26,-0.565 0.288,-0.6 V0 Z"/><text x="1307.10" y="646.10" font-size="31">6</text><text x="1293.28" y="744.10" font-size="31">4</text><text x="1679.73" y="537.10" font-size="31">3</text><path transform="translate(1737.21 756.10) scale(31)" stroke-width="0.0113" d="M0.375,0 V-0.729 H0.290 Q0.26,-0.67 0.20,-0.655 L0.128,-0.632 V-0.51 L0.21,-0.54 Q0.26,-0.565 0.288,-0.6 V0 Z"/><text x="1754.45" y="756.10" font-size="31">4</text><path transform="translate(1798.51 694.80) scale(31)" stroke-width="0.0113" d="M0.375,0 V-0.729 H0.290 Q0.26,-0.67 0.20,-0.655 L0.128,-0.632 V-0.51 L0.21,-0.54 Q0.26,-0.565 0.288,-0.6 V0 Z"/><text x="1815.75" y="694.80" font-size="31">5</text><g transform="translate(1786.95 0) scale(0.965 1) translate(-1786.95 0)" stroke-width="0.75"><text x="1726.46" y="934.00" font-size="23.4">Z</text><text x="1740.76" y="934.00" font-size="23.4">3</text><path transform="translate(1753.77 934.00) scale(23.4)" stroke-width="0.0150" d="M0.375,0 V-0.729 H0.290 Q0.26,-0.67 0.20,-0.655 L0.128,-0.632 V-0.51 L0.21,-0.54 Q0.26,-0.565 0.288,-0.6 V0 Z"/><text x="1766.78" y="934.00" font-size="23.4">4</text><text x="1779.79" y="934.00" font-size="23.4">Y</text><text x="1795.40" y="934.00" font-size="23.4">0</text><text x="1808.41" y="934.00" font-size="23.4">2</text><text x="1821.42" y="934.00" font-size="23.4">0</text><text x="1834.43" y="934.00" font-size="23.4">0</text></g></g></svg></body></html>
